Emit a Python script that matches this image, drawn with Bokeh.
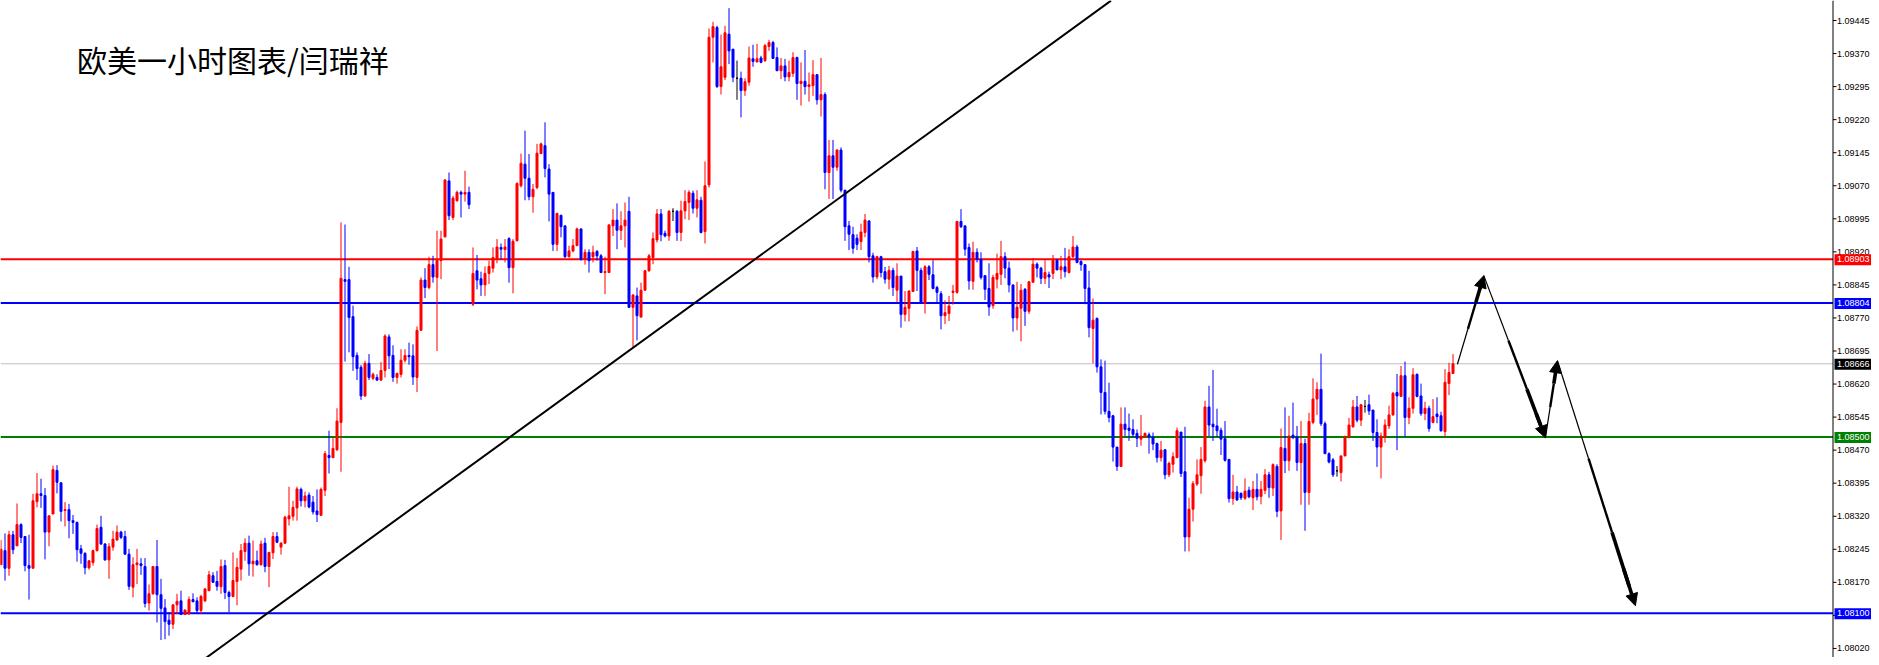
from bokeh.plotting import figure
from bokeh.models import Range1d, Arrow, NormalHead, ColumnDataSource, Label
from bokeh.core.properties import value
from bokeh.embed import file_html
from bokeh.resources import INLINE

# ---------------- data: EURUSD H1 candles ----------------
open_ = [
    1.08210, 1.08242, 1.08202, 1.08278, 1.08253, 1.08301, 1.08274, 1.08208, 1.08202, 1.08353,
    1.08371, 1.08367, 1.08284, 1.08325, 1.08424, 1.08396, 1.08333, 1.08335, 1.08310, 1.08306,
    1.08246, 1.08236, 1.08203, 1.08215, 1.08242, 1.08295, 1.08257, 1.08221, 1.08250, 1.08266,
    1.08284, 1.08274, 1.08234, 1.08159, 1.08210, 1.08212, 1.08206, 1.08123, 1.08144, 1.08206,
    1.08142, 1.08112, 1.08084, 1.08075, 1.08119, 1.08128, 1.08097, 1.08098, 1.08131, 1.08128,
    1.08106, 1.08128, 1.08151, 1.08185, 1.08172, 1.08160, 1.08208, 1.08147, 1.08138, 1.08172,
    1.08200, 1.08240, 1.08259, 1.08212, 1.08219, 1.08210, 1.08259, 1.08206, 1.08237, 1.08274,
    1.08250, 1.08259, 1.08314, 1.08320, 1.08339, 1.08381, 1.08355, 1.08368, 1.08352, 1.08332,
    1.08322, 1.08379, 1.08458, 1.08453, 1.08471, 1.08533, 1.08857, 1.08857, 1.08773, 1.08685,
    1.08658, 1.08593, 1.08667, 1.08633, 1.08635, 1.08629, 1.08651, 1.08727, 1.08685, 1.08635,
    1.08642, 1.08674, 1.08685, 1.08684, 1.08635, 1.08742, 1.08856, 1.08839, 1.08891, 1.08862,
    1.08900, 1.08954, 1.09081, 1.08998, 1.09036, 1.09055, 1.09051, 1.09055, 1.08801, 1.08877,
    1.08859, 1.08845, 1.08871, 1.08883, 1.08903, 1.08930, 1.08925, 1.08950, 1.08884, 1.08945,
    1.09070, 1.09119, 1.09087, 1.09045, 1.09066, 1.09143, 1.09161, 1.09108, 1.09055, 1.08937,
    1.09003, 1.08979, 1.08909, 1.08922, 1.08934, 1.08972, 1.08903, 1.08919, 1.08909, 1.08921,
    1.08911, 1.08873, 1.08873, 1.08979, 1.08992, 1.08969, 1.08979, 1.09012, 1.08794, 1.08820,
    1.08772, 1.08833, 1.08877, 1.08907, 1.08947, 1.09006, 1.08962, 1.08956, 1.09012, 1.09012,
    1.08964, 1.09013, 1.09032, 1.09053, 1.09019, 1.09037, 1.08966, 1.09072, 1.09407, 1.09429,
    1.09295, 1.09316, 1.09414, 1.09380, 1.09314, 1.09314, 1.09286, 1.09305, 1.09358, 1.09351,
    1.09360, 1.09354, 1.09386, 1.09395, 1.09361, 1.09331, 1.09342, 1.09317, 1.09325, 1.09361,
    1.09302, 1.09307, 1.09295, 1.09297, 1.09322, 1.09265, 1.09277, 1.09100, 1.09138, 1.09112,
    1.09151, 1.09060, 1.08979, 1.08959, 1.08951, 1.08943, 1.08964, 1.08990, 1.08911, 1.08863,
    1.08909, 1.08875, 1.08858, 1.08878, 1.08833, 1.08865, 1.08778, 1.08792, 1.08830, 1.08922,
    1.08878, 1.08803, 1.08886, 1.08868, 1.08839, 1.08825, 1.08775, 1.08780, 1.08828, 1.08828,
    1.08989, 1.08979, 1.08930, 1.08853, 1.08919, 1.08903, 1.08866, 1.08837, 1.08798, 1.08858,
    1.08869, 1.08909, 1.08883, 1.08845, 1.08770, 1.08792, 1.08835, 1.08785, 1.08851, 1.08892,
    1.08883, 1.08860, 1.08868, 1.08871, 1.08901, 1.08879, 1.08886, 1.08873, 1.08909, 1.08931,
    1.08898, 1.08891, 1.08838, 1.08746, 1.08769, 1.08659, 1.08601, 1.08558, 1.08548, 1.08477,
    1.08433, 1.08529, 1.08520, 1.08517, 1.08508, 1.08495, 1.08500, 1.08505, 1.08500, 1.08485,
    1.08453, 1.08471, 1.08414, 1.08438, 1.08453, 1.08511, 1.08421, 1.08273, 1.08336, 1.08393,
    1.08412, 1.08446, 1.08568, 1.08529, 1.08525, 1.08515, 1.08496, 1.08449, 1.08360, 1.08375,
    1.08372, 1.08361, 1.08379, 1.08362, 1.08381, 1.08365, 1.08379, 1.08414, 1.08384, 1.08433,
    1.08332, 1.08474, 1.08446, 1.08504, 1.08500, 1.08442, 1.08485, 1.08374, 1.08533, 1.08586,
    1.08608, 1.08530, 1.08462, 1.08448, 1.08423, 1.08419, 1.08457, 1.08500, 1.08523, 1.08568,
    1.08538, 1.08569, 1.08573, 1.08561, 1.08510, 1.08477, 1.08500, 1.08525, 1.08550, 1.08601,
    1.08592, 1.08639, 1.08544, 1.08565, 1.08642, 1.08593, 1.08553, 1.08565, 1.08533, 1.08552,
    1.08548, 1.08512, 1.08621, 1.08644,
]
high = [
    1.08266, 1.08281, 1.08287, 1.08287, 1.08349, 1.08304, 1.08274, 1.08278, 1.08371, 1.08418,
    1.08405, 1.08384, 1.08321, 1.08435, 1.08436, 1.08396, 1.08352, 1.08348, 1.08323, 1.08308,
    1.08255, 1.08238, 1.08219, 1.08244, 1.08301, 1.08321, 1.08259, 1.08259, 1.08287, 1.08299,
    1.08287, 1.08287, 1.08246, 1.08227, 1.08246, 1.08225, 1.08225, 1.08165, 1.08206, 1.08266,
    1.08178, 1.08132, 1.08102, 1.08119, 1.08144, 1.08151, 1.08109, 1.08138, 1.08145, 1.08136,
    1.08142, 1.08157, 1.08196, 1.08193, 1.08196, 1.08222, 1.08221, 1.08151, 1.08238, 1.08225,
    1.08257, 1.08270, 1.08276, 1.08265, 1.08242, 1.08265, 1.08271, 1.08238, 1.08284, 1.08284,
    1.08261, 1.08321, 1.08387, 1.08355, 1.08387, 1.08385, 1.08376, 1.08374, 1.08366, 1.08381,
    1.08385, 1.08468, 1.08514, 1.08498, 1.08565, 1.08987, 1.08982, 1.08886, 1.08798, 1.08692,
    1.08663, 1.08673, 1.08688, 1.08646, 1.08642, 1.08670, 1.08733, 1.08733, 1.08708, 1.08646,
    1.08699, 1.08699, 1.08714, 1.08710, 1.08751, 1.08862, 1.08883, 1.08909, 1.08911, 1.08968,
    1.08968, 1.09085, 1.09100, 1.09047, 1.09059, 1.09059, 1.09104, 1.09068, 1.08930, 1.08913,
    1.08875, 1.08887, 1.08900, 1.08930, 1.08949, 1.08939, 1.08949, 1.08953, 1.08949, 1.09078,
    1.09143, 1.09195, 1.09142, 1.09074, 1.09165, 1.09168, 1.09214, 1.09119, 1.09055, 1.09009,
    1.09004, 1.08979, 1.08934, 1.08949, 1.08975, 1.08973, 1.08926, 1.08926, 1.08934, 1.08924,
    1.08915, 1.08909, 1.08983, 1.09017, 1.09030, 1.09012, 1.09032, 1.09045, 1.08824, 1.08839,
    1.08850, 1.08879, 1.08915, 1.08964, 1.09017, 1.09017, 1.08968, 1.09015, 1.09019, 1.09015,
    1.09036, 1.09060, 1.09060, 1.09059, 1.09060, 1.09045, 1.09125, 1.09427, 1.09442, 1.09433,
    1.09413, 1.09433, 1.09473, 1.09380, 1.09354, 1.09329, 1.09314, 1.09386, 1.09390, 1.09392,
    1.09365, 1.09392, 1.09401, 1.09399, 1.09384, 1.09360, 1.09358, 1.09354, 1.09373, 1.09363,
    1.09350, 1.09378, 1.09327, 1.09355, 1.09323, 1.09360, 1.09282, 1.09174, 1.09174, 1.09153,
    1.09157, 1.09060, 1.08990, 1.08977, 1.08960, 1.08984, 1.09006, 1.08992, 1.08918, 1.08911,
    1.08911, 1.08886, 1.08888, 1.08884, 1.08894, 1.08865, 1.08831, 1.08833, 1.08921, 1.08931,
    1.08884, 1.08890, 1.08890, 1.08901, 1.08843, 1.08831, 1.08810, 1.08820, 1.08845, 1.08990,
    1.09017, 1.08979, 1.08939, 1.08943, 1.08928, 1.08919, 1.08866, 1.08894, 1.08868, 1.08916,
    1.08945, 1.08919, 1.08898, 1.08845, 1.08852, 1.08847, 1.08838, 1.08854, 1.08906, 1.08896,
    1.08886, 1.08901, 1.08875, 1.08913, 1.08904, 1.08911, 1.08929, 1.08926, 1.08956, 1.08936,
    1.08901, 1.08892, 1.08877, 1.08814, 1.08771, 1.08676, 1.08673, 1.08623, 1.08550, 1.08477,
    1.08567, 1.08567, 1.08553, 1.08540, 1.08517, 1.08550, 1.08510, 1.08510, 1.08510, 1.08487,
    1.08491, 1.08471, 1.08444, 1.08465, 1.08521, 1.08511, 1.08523, 1.08362, 1.08400, 1.08449,
    1.08477, 1.08582, 1.08616, 1.08652, 1.08564, 1.08521, 1.08536, 1.08449, 1.08414, 1.08389,
    1.08374, 1.08406, 1.08387, 1.08400, 1.08417, 1.08400, 1.08427, 1.08421, 1.08440, 1.08438,
    1.08519, 1.08567, 1.08548, 1.08578, 1.08525, 1.08536, 1.08496, 1.08555, 1.08633, 1.08624,
    1.08689, 1.08535, 1.08465, 1.08452, 1.08434, 1.08457, 1.08503, 1.08543, 1.08584, 1.08593,
    1.08573, 1.08584, 1.08596, 1.08561, 1.08540, 1.08510, 1.08540, 1.08571, 1.08602, 1.08643,
    1.08661, 1.08671, 1.08590, 1.08656, 1.08644, 1.08621, 1.08580, 1.08571, 1.08586, 1.08590,
    1.08557, 1.08654, 1.08668, 1.08688,
]
low = [
    1.08210, 1.08174, 1.08185, 1.08234, 1.08253, 1.08259, 1.08195, 1.08131, 1.08202, 1.08340,
    1.08339, 1.08222, 1.08252, 1.08325, 1.08372, 1.08308, 1.08297, 1.08270, 1.08280, 1.08217,
    1.08212, 1.08188, 1.08199, 1.08208, 1.08240, 1.08255, 1.08219, 1.08178, 1.08242, 1.08265,
    1.08268, 1.08233, 1.08153, 1.08136, 1.08166, 1.08187, 1.08113, 1.08106, 1.08142, 1.08079,
    1.08039, 1.08041, 1.08049, 1.08064, 1.08098, 1.08097, 1.08097, 1.08098, 1.08125, 1.08098,
    1.08098, 1.08125, 1.08151, 1.08170, 1.08151, 1.08144, 1.08132, 1.08102, 1.08136, 1.08118,
    1.08174, 1.08219, 1.08185, 1.08183, 1.08208, 1.08208, 1.08193, 1.08159, 1.08223, 1.08259,
    1.08233, 1.08257, 1.08299, 1.08310, 1.08310, 1.08342, 1.08340, 1.08338, 1.08324, 1.08307,
    1.08322, 1.08366, 1.08417, 1.08452, 1.08468, 1.08421, 1.08671, 1.08692, 1.08650, 1.08629,
    1.08584, 1.08591, 1.08629, 1.08629, 1.08627, 1.08627, 1.08635, 1.08654, 1.08625, 1.08621,
    1.08635, 1.08669, 1.08664, 1.08618, 1.08602, 1.08741, 1.08815, 1.08835, 1.08850, 1.08695,
    1.08858, 1.08953, 1.08992, 1.08992, 1.09034, 1.08998, 1.09034, 1.09017, 1.08797, 1.08835,
    1.08820, 1.08820, 1.08847, 1.08873, 1.08894, 1.08903, 1.08896, 1.08850, 1.08826, 1.08944,
    1.09066, 1.09037, 1.09037, 1.09009, 1.09062, 1.09142, 1.09089, 1.08989, 1.08922, 1.08922,
    1.08953, 1.08906, 1.08907, 1.08919, 1.08934, 1.08900, 1.08891, 1.08873, 1.08896, 1.08900,
    1.08873, 1.08824, 1.08873, 1.08956, 1.08926, 1.08947, 1.08930, 1.08794, 1.08703, 1.08719,
    1.08771, 1.08832, 1.08875, 1.08892, 1.08941, 1.08944, 1.08953, 1.08945, 1.08990, 1.08945,
    1.08944, 1.08994, 1.08992, 1.09007, 1.08998, 1.08962, 1.08939, 1.09066, 1.09350, 1.09292,
    1.09277, 1.09310, 1.09346, 1.09305, 1.09265, 1.09225, 1.09274, 1.09297, 1.09340, 1.09350,
    1.09348, 1.09351, 1.09376, 1.09358, 1.09331, 1.09312, 1.09307, 1.09307, 1.09317, 1.09265,
    1.09252, 1.09277, 1.09261, 1.09274, 1.09254, 1.09227, 1.09062, 1.09040, 1.09040, 1.09104,
    1.09055, 1.08945, 1.08924, 1.08916, 1.08924, 1.08924, 1.08953, 1.08896, 1.08850, 1.08858,
    1.08862, 1.08848, 1.08835, 1.08820, 1.08805, 1.08748, 1.08762, 1.08762, 1.08830, 1.08831,
    1.08803, 1.08780, 1.08856, 1.08835, 1.08805, 1.08744, 1.08756, 1.08763, 1.08800, 1.08825,
    1.08974, 1.08911, 1.08834, 1.08834, 1.08896, 1.08857, 1.08811, 1.08775, 1.08791, 1.08837,
    1.08845, 1.08860, 1.08828, 1.08739, 1.08742, 1.08717, 1.08752, 1.08779, 1.08851, 1.08862,
    1.08847, 1.08847, 1.08838, 1.08858, 1.08879, 1.08858, 1.08862, 1.08871, 1.08906, 1.08894,
    1.08877, 1.08801, 1.08726, 1.08667, 1.08646, 1.08551, 1.08551, 1.08533, 1.08444, 1.08423,
    1.08433, 1.08502, 1.08491, 1.08499, 1.08477, 1.08480, 1.08499, 1.08462, 1.08470, 1.08442,
    1.08444, 1.08404, 1.08409, 1.08419, 1.08452, 1.08409, 1.08240, 1.08240, 1.08308, 1.08389,
    1.08371, 1.08442, 1.08502, 1.08491, 1.08500, 1.08459, 1.08444, 1.08351, 1.08346, 1.08355,
    1.08357, 1.08357, 1.08361, 1.08334, 1.08356, 1.08347, 1.08370, 1.08362, 1.08366, 1.08318,
    1.08266, 1.08418, 1.08423, 1.08495, 1.08423, 1.08346, 1.08287, 1.08346, 1.08529, 1.08550,
    1.08525, 1.08462, 1.08440, 1.08409, 1.08410, 1.08399, 1.08456, 1.08497, 1.08521, 1.08533,
    1.08525, 1.08555, 1.08550, 1.08491, 1.08432, 1.08406, 1.08487, 1.08518, 1.08548, 1.08470,
    1.08592, 1.08500, 1.08529, 1.08553, 1.08590, 1.08548, 1.08538, 1.08512, 1.08531, 1.08531,
    1.08512, 1.08500, 1.08595, 1.08644,
]
close = [
    1.08245, 1.08202, 1.08278, 1.08244, 1.08301, 1.08272, 1.08208, 1.08202, 1.08355, 1.08371,
    1.08367, 1.08284, 1.08321, 1.08426, 1.08397, 1.08331, 1.08335, 1.08310, 1.08306, 1.08244,
    1.08236, 1.08203, 1.08219, 1.08242, 1.08292, 1.08257, 1.08221, 1.08251, 1.08268, 1.08284,
    1.08272, 1.08234, 1.08161, 1.08210, 1.08214, 1.08208, 1.08122, 1.08144, 1.08206, 1.08142,
    1.08111, 1.08081, 1.08075, 1.08119, 1.08127, 1.08097, 1.08107, 1.08131, 1.08126, 1.08106,
    1.08138, 1.08155, 1.08187, 1.08170, 1.08161, 1.08206, 1.08147, 1.08138, 1.08174, 1.08204,
    1.08242, 1.08259, 1.08212, 1.08218, 1.08210, 1.08257, 1.08206, 1.08238, 1.08274, 1.08261,
    1.08259, 1.08318, 1.08321, 1.08340, 1.08382, 1.08355, 1.08366, 1.08341, 1.08330, 1.08324,
    1.08381, 1.08462, 1.08453, 1.08474, 1.08536, 1.08860, 1.08853, 1.08771, 1.08682, 1.08655,
    1.08593, 1.08667, 1.08635, 1.08642, 1.08629, 1.08651, 1.08729, 1.08684, 1.08635, 1.08644,
    1.08674, 1.08685, 1.08682, 1.08636, 1.08742, 1.08856, 1.08839, 1.08891, 1.08863, 1.08901,
    1.08949, 1.09083, 1.09002, 1.09042, 1.09055, 1.09051, 1.09055, 1.09027, 1.08871, 1.08856,
    1.08845, 1.08871, 1.08887, 1.08907, 1.08931, 1.08926, 1.08931, 1.08884, 1.08944, 1.09075,
    1.09121, 1.09087, 1.09045, 1.09062, 1.09144, 1.09165, 1.09109, 1.09051, 1.08937, 1.09007,
    1.08977, 1.08909, 1.08922, 1.08934, 1.08972, 1.08903, 1.08919, 1.08900, 1.08919, 1.08911,
    1.08873, 1.08875, 1.08981, 1.08992, 1.08969, 1.08979, 1.08992, 1.08794, 1.08822, 1.08775,
    1.08833, 1.08877, 1.08911, 1.08950, 1.09006, 1.08959, 1.08956, 1.09012, 1.09012, 1.08964,
    1.09013, 1.09034, 1.09055, 1.09019, 1.09038, 1.08964, 1.09070, 1.09407, 1.09431, 1.09295,
    1.09340, 1.09417, 1.09376, 1.09316, 1.09314, 1.09286, 1.09306, 1.09360, 1.09352, 1.09358,
    1.09350, 1.09388, 1.09395, 1.09359, 1.09331, 1.09342, 1.09317, 1.09327, 1.09361, 1.09302,
    1.09307, 1.09295, 1.09299, 1.09322, 1.09265, 1.09277, 1.09100, 1.09138, 1.09112, 1.09151,
    1.09060, 1.08977, 1.08960, 1.08928, 1.08937, 1.08965, 1.08992, 1.08909, 1.08863, 1.08909,
    1.08873, 1.08858, 1.08878, 1.08839, 1.08865, 1.08778, 1.08794, 1.08831, 1.08921, 1.08878,
    1.08803, 1.08886, 1.08869, 1.08837, 1.08828, 1.08775, 1.08782, 1.08797, 1.08831, 1.08989,
    1.08977, 1.08926, 1.08854, 1.08919, 1.08903, 1.08862, 1.08835, 1.08795, 1.08862, 1.08871,
    1.08909, 1.08883, 1.08845, 1.08770, 1.08794, 1.08833, 1.08785, 1.08852, 1.08892, 1.08883,
    1.08860, 1.08873, 1.08863, 1.08901, 1.08879, 1.08886, 1.08875, 1.08909, 1.08931, 1.08896,
    1.08891, 1.08837, 1.08748, 1.08765, 1.08659, 1.08601, 1.08558, 1.08544, 1.08477, 1.08433,
    1.08529, 1.08517, 1.08515, 1.08506, 1.08497, 1.08502, 1.08508, 1.08500, 1.08484, 1.08453,
    1.08470, 1.08414, 1.08440, 1.08455, 1.08514, 1.08417, 1.08273, 1.08336, 1.08394, 1.08414,
    1.08449, 1.08568, 1.08527, 1.08523, 1.08514, 1.08495, 1.08447, 1.08360, 1.08375, 1.08357,
    1.08362, 1.08377, 1.08364, 1.08381, 1.08364, 1.08381, 1.08414, 1.08385, 1.08437, 1.08331,
    1.08476, 1.08446, 1.08502, 1.08499, 1.08442, 1.08485, 1.08374, 1.08535, 1.08586, 1.08608,
    1.08530, 1.08462, 1.08443, 1.08414, 1.08423, 1.08457, 1.08500, 1.08527, 1.08568, 1.08538,
    1.08573, 1.08569, 1.08559, 1.08510, 1.08477, 1.08502, 1.08527, 1.08550, 1.08599, 1.08593,
    1.08639, 1.08544, 1.08565, 1.08641, 1.08592, 1.08553, 1.08565, 1.08519, 1.08546, 1.08546,
    1.08514, 1.08624, 1.08646, 1.08666,
]

# price-scale tick labels
tick_values = [1.09445, 1.09370, 1.09295, 1.09220, 1.09145, 1.09070, 1.08995, 1.08920, 1.08845, 1.08770,
               1.08695, 1.08620, 1.08545, 1.08470, 1.08395, 1.08320, 1.08245, 1.08170, 1.08095, 1.08020]

# horizontal levels and their price tags
level_values = [1.08903, 1.08804, 1.08666, 1.08500, 1.08100]
level_colors = ["#FF0000", "#0000FF", "#C0C0C0", "#008000", "#0000FF"]
level_widths = [2, 2, 1, 2, 2]
tag_colors = ["#FF0000", "#0000FF", "#000000", "#008000", "#0000FF"]

# trend line (bar index, price)
trend_x = [48.6, 277.5]
trend_y = [1.07981, 1.09490]

# projected path drawn with arrows (bar index, price)
path_x = [364.1, 370.7, 386.1, 389.1, 408.6]
path_y = [1.08665, 1.08866, 1.08498, 1.08673, 1.08117]

title_text = "欧美一小时图表/闫瑞祥"

# ---------------- figure geometry ----------------
n = min(len(open_), len(high), len(low), len(close))
FRAME_W, FRAME_H = 1871, 657
BAR_PX = 4.0                      # pixels per bar
x_start = -0.125
x_end = x_start + FRAME_W / BAR_PX
scale_x = x_start + 1832.5 / BAR_PX   # price-scale line position (in bar units)
price_per_px = 0.00075 / 33.05
y_top = 1.09445 + 20 * price_per_px
y_bottom = y_top - FRAME_H * price_per_px

p = figure(frame_width=FRAME_W, frame_height=FRAME_H,
           x_range=Range1d(x_start, x_end), y_range=Range1d(y_bottom, y_top),
           output_backend="svg", toolbar_location=None,
           x_axis_location=None, y_axis_location=None, min_border=0)
p.outline_line_color = None
p.background_fill_color = "white"
p.border_fill_color = "white"
p.grid.visible = False

AX_FONT = value("Liberation Sans")
AX_SIZE = value("9px")

# ---------------- candles ----------------
colors, tops, bots = [], [], []
for i in range(n):
    o, c = open_[i], close[i]
    colors.append("#FF0000" if c > o else ("#0000FF" if c < o else "#000000"))
    tops.append(max(o, c))
    bots.append(min(o, c))
src = ColumnDataSource(dict(x=list(range(n)), high=high[:n], low=low[:n], top=tops, bot=bots, color=colors))

# level lines (end at the price scale)
lv_src = ColumnDataSource(dict(y=level_values, color=level_colors, w=level_widths,
                               x0=[x_start] * len(level_values), x1=[scale_x] * len(level_values)))
p.segment(x0="x0", y0="y", x1="x1", y1="y", line_color="color", line_width="w", source=lv_src)

p.segment(x0="x", y0="low", x1="x", y1="high", line_color="color", line_width=1, source=src)
p.vbar(x="x", width=0.5, top="top", bottom="bot", fill_color="color", line_color="color",
       line_width=1, source=src)

# trend line
p.line(trend_x, trend_y, line_color="black", line_width=2)

# tapered arrows
pieces = [(0.0, 0.4, 1.2), (0.4, 0.7, 2.4), (0.7, 0.92, 3.6)]
for k in range(len(path_x) - 1):
    xa, ya, xb, yb = path_x[k], path_y[k], path_x[k + 1], path_y[k + 1]
    for f0, f1, w in pieces:
        p.line([xa + (xb - xa) * f0, xa + (xb - xa) * f1], [ya + (yb - ya) * f0, ya + (yb - ya) * f1],
               line_color="black", line_width=w)
    p.add_layout(Arrow(end=NormalHead(size=12, fill_color="black", line_color="black", line_width=1),
                       x_start=xa + (xb - xa) * 0.85, y_start=ya + (yb - ya) * 0.85, x_end=xb, y_end=yb,
                       line_color="black", line_width=3.6))

# ---------------- price scale on the right ----------------
p.segment(x0=[scale_x], y0=[y_bottom], x1=[scale_x], y1=[y_top], line_color="black", line_width=1)
tk = ColumnDataSource(dict(y=tick_values, x0=[scale_x] * len(tick_values),
                           x1=[scale_x + 3.5 / BAR_PX] * len(tick_values),
                           xt=[scale_x + 4.0 / BAR_PX] * len(tick_values),
                           text=[f"{t:.5f}" for t in tick_values]))
p.segment(x0="x0", y0="y", x1="x1", y1="y", line_color="black", line_width=1, source=tk)
p.text(x="xt", y="y", text="text", text_font=AX_FONT, text_font_size=AX_SIZE, text_color="black",
       text_baseline="middle", text_align="left", source=tk)

# price tags
half_h = 5.0 * price_per_px
tg = ColumnDataSource(dict(y=level_values, color=tag_colors,
                           left=[scale_x + 1.5 / BAR_PX] * len(level_values),
                           right=[x_end] * len(level_values),
                           top=[v + half_h for v in level_values],
                           bottom=[v - half_h - price_per_px for v in level_values],
                           xt=[scale_x + 4.0 / BAR_PX] * len(level_values),
                           text=[f"{v:.5f}" for v in level_values]))
p.quad(left="left", right="right", top="top", bottom="bottom", fill_color="color", line_color=None, source=tg)
p.text(x="xt", y="y", text="text", text_font=AX_FONT, text_font_size=AX_SIZE, text_color="white",
       text_baseline="middle", text_align="left", source=tg)

# title
p.add_layout(Label(x=19.0, y=1.093581, text=title_text, text_font="Noto Sans CJK SC",
                   text_font_size="30px", text_color="black", text_baseline="middle", text_align="left"))

open("out.html", "w").write(file_html(p, INLINE))
